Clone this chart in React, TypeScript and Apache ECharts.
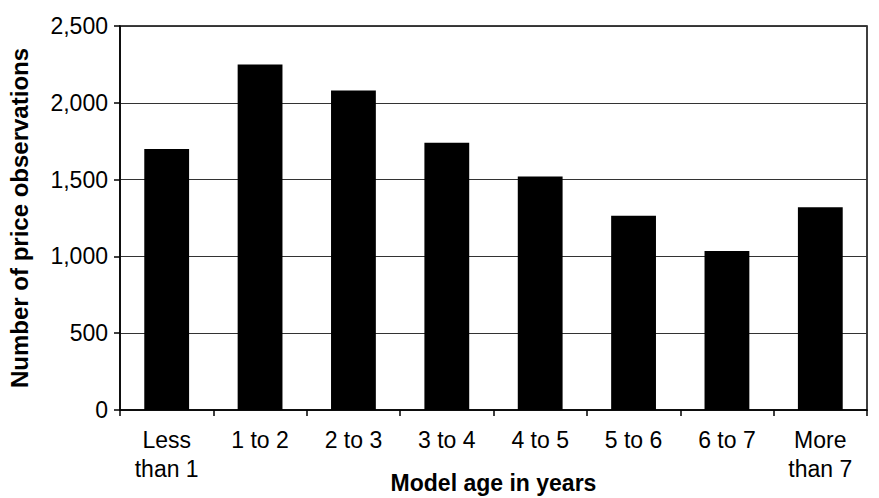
import React, { useEffect, useRef } from "react";
import * as echarts from "echarts";

const categories = ["Less\nthan 1", "1 to 2", "2 to 3", "3 to 4", "4 to 5", "5 to 6", "6 to 7", "More\nthan 7"];
const observations = [1700, 2250, 2080, 1740, 1520, 1265, 1035, 1320];
const yTicks = { min: 0, max: 2500, interval: 500 };
const xTitle = "Model age in years";
const yTitle = "Number of price observations";

const FONT = "'Liberation Sans', Arial, sans-serif";

export default function App() {
  const ref = useRef<HTMLDivElement>(null);
  useEffect(() => {
    if (!ref.current) return;
    const chart = echarts.init(ref.current, null, { renderer: "svg" });
    chart.setOption({
      animation: false,
      backgroundColor: "#fff",
      textStyle: { fontFamily: FONT },
      grid: {
        left: 120,
        right: 12,
        top: 26,
        bottom: 88,
        outerBoundsMode: "none",
        containLabel: false,
        show: true,
        borderColor: "#000",
        borderWidth: 1.5,
        backgroundColor: "transparent",
      },
      xAxis: {
        type: "category",
        data: categories,
        name: xTitle,
        nameLocation: "middle",
        nameGap: 61,
        nameMoveOverlap: false,
        nameTextStyle: { fontSize: 23, fontWeight: "bold", color: "#000", fontFamily: FONT },
        axisLine: { lineStyle: { color: "#000", width: 1.5 } },
        axisTick: { show: true, length: 6, lineStyle: { color: "#000", width: 1.5 } },
        axisLabel: { color: "#000", fontSize: 23, lineHeight: 29, margin: 15, interval: 0, fontFamily: FONT },
        splitLine: { show: false },
      },
      yAxis: {
        type: "value",
        min: yTicks.min,
        max: yTicks.max,
        interval: yTicks.interval,
        name: yTitle,
        nameLocation: "middle",
        nameGap: 89,
        nameMoveOverlap: false,
        nameTextStyle: { fontSize: 24, fontWeight: "bold", color: "#000", fontFamily: FONT },
        axisLine: { show: true, lineStyle: { color: "#000", width: 1.5 } },
        axisTick: { show: true, length: 6, lineStyle: { color: "#000", width: 1.5 } },
        axisLabel: {
          color: "#000",
          fontSize: 23,
          margin: 12,
          fontFamily: FONT,
          formatter: (v: number) => v.toLocaleString("en-US"),
        },
        splitLine: { show: true, lineStyle: { color: "#333", width: 1 } },
      },
      series: [
        {
          type: "bar",
          data: observations,
          barWidth: "48%",
          itemStyle: { color: "#000" },
        },
      ],
    });
    return () => chart.dispose();
  }, []);
  return <div ref={ref} style={{ position: "fixed", left: 0, top: 0, width: 879, height: 498 }} />;
}
